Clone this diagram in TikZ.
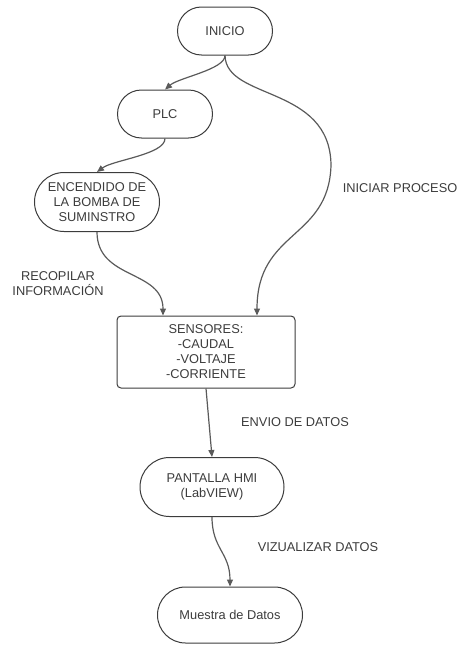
\documentclass[tikz,border=0pt]{standalone}
\usepackage{fontspec}
\setmainfont{Liberation Sans}
\usetikzlibrary{arrows.meta}
\definecolor{ink}{HTML}{3C3C3C}
\definecolor{wire}{HTML}{5A5A5A}
\begin{document}
\begin{tikzpicture}[x=1pt,y=-1pt,
  txt/.style={font=\fontsize{12.8}{15}\selectfont, text=ink, align=center},
  pill/.style 2 args={txt, draw=ink, line width=1pt, rectangle,
    rounded corners=#2/2, minimum width=#1, minimum height=#2, inner sep=0pt},
  boxnode/.style={txt, draw=ink, line width=1pt, rectangle, rounded corners=4pt,
    minimum width=178pt, minimum height=72pt, inner sep=0pt},
  link/.style={draw=wire, line width=1.2pt,
    -{Triangle[length=7pt,width=6pt,fill=wire]}},
  note/.style={txt}]
\useasboundingbox (0,0) rectangle (460,645);

% process steps
\node[pill={95pt}{48pt}]  (inicio)  at (225,31)  {INICIO};
\node[pill={95pt}{48pt}]  (plc)     at (165,114) {PLC};
\node[pill={125pt}{59pt}] (enc)     at (97,202)  {ENCENDIDO DE\\LA BOMBA DE\\SUMINSTRO};
\node[boxnode]            (sens)    at (206,352) {SENSORES:\\-CAUDAL\\-VOLTAJE\\-CORRIENTE};
\node[pill={144pt}{59pt}] (hmi)     at (212,487) {PANTALLA HMI\\(LabVIEW)};
\node[pill={145pt}{56pt}] (muestra) at (230,615) {Muestra de Datos};

% edge labels
\node[note] (lproc) at (400,188) {INICIAR PROCESO};
\node[note] (lrec)  at (58,284)  {RECOPILAR\\INFORMACIÓN};
\node[note] (lenv)  at (295,422) {ENVIO DE DATOS};
\node[note] (lviz)  at (318,547) {VIZUALIZAR DATOS};

% arrival points on the sensor box
\coordinate (sensL) at ([xshift=-43pt]sens.north);
\coordinate (sensR) at ([xshift=51pt]sens.north);
\coordinate (bend)  at (331,165);

% connectors
\draw[link] (inicio.south) .. controls +(0,14) and +(14,-12) .. (plc.north);
\draw[link] (inicio.south) .. controls +(1,45) and +(-1,-80) .. (bend)
                           .. controls +(-2,75) and +(0,-86) .. (sensR);
\draw[link] (plc.south) .. controls +(0,16) and +(16,-12) .. (enc.north);
\draw[link] (enc.south) .. controls +(0,48) and +(0,-46) .. (sensL);
\draw[link] (sens.south) -- (hmi.north);
\draw[link] (hmi.south) .. controls +(0,32) and +(0,-34) .. (muestra.north);
\end{tikzpicture}
\end{document}
